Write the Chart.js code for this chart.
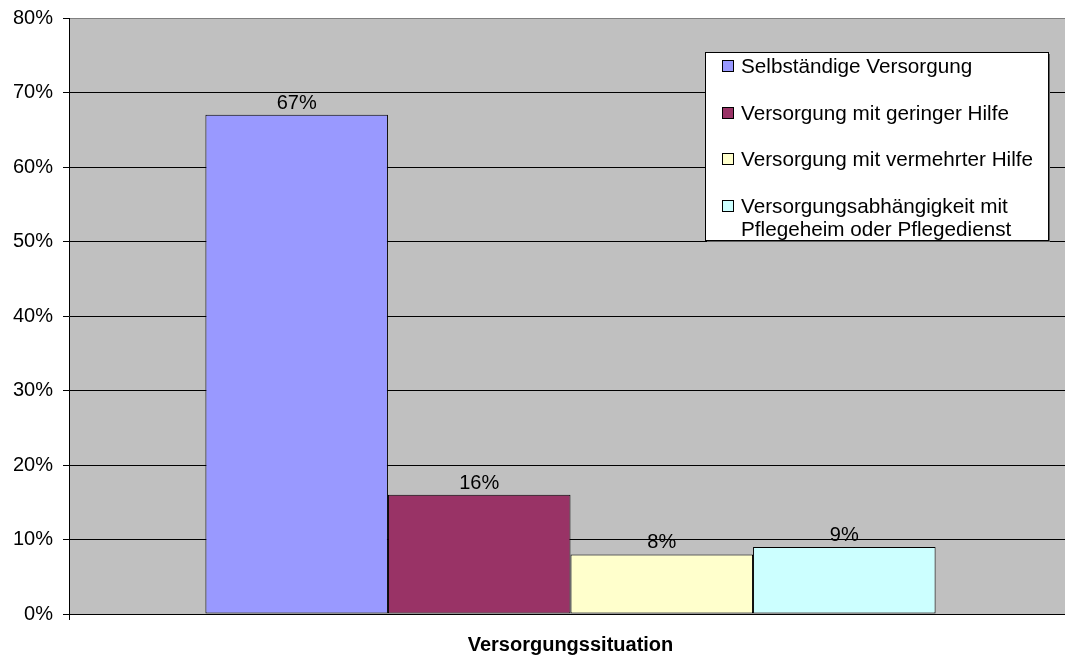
<!DOCTYPE html>
<html>
<head>
<meta charset="utf-8">
<script src="https://cdn.jsdelivr.net/npm/chart.js@4/dist/chart.umd.min.js"></script>
<style>
  html, body { margin: 0; padding: 0; background: #fff; overflow: hidden; width: 1065px; height: 659px; }
  canvas { display: block; }
</style>
</head>
<body>
<canvas id="c" width="1072" height="659"></canvas>
<script>
const categories = [''];
const axisTitle = 'Versorgungssituation';
const seriesNames = [
  'Selbständige Versorgung',
  'Versorgung mit geringer Hilfe',
  'Versorgung mit vermehrter Hilfe',
  'Versorgungsabhängigkeit mit\nPflegeheim oder Pflegedienst'
];
const seriesValues = [67, 16, 8, 9];
const seriesColors = ['#9999FF', '#993366', '#FFFFCC', '#CCFFFF'];
const yTicks = [0, 10, 20, 30, 40, 50, 60, 70, 80];

const FONT = "'Liberation Sans', Arial, sans-serif";

const bgPlugin = {
  id: 'plotBg',
  beforeDraw(chart) {
    const {ctx, chartArea: a} = chart;
    ctx.save();
    ctx.fillStyle = '#C0C0C0';
    ctx.fillRect(a.left, a.top, a.right - a.left, a.bottom - a.top);
    ctx.restore();
  }
};

const labelPlugin = {
  id: 'valueLabels',
  afterDatasetsDraw(chart) {
    const ctx = chart.ctx;
    ctx.save();
    ctx.font = '20px ' + FONT;
    ctx.fillStyle = '#000';
    ctx.textAlign = 'center';
    ctx.textBaseline = 'alphabetic';
    chart.data.datasets.forEach((ds, i) => {
      const meta = chart.getDatasetMeta(i);
      meta.data.forEach((el, j) => {
        ctx.fillText(ds.data[j] + '%', el.x, el.y - 6);
      });
    });
    ctx.restore();
  }
};

const legendPlugin = {
  id: 'boxLegend',
  afterDraw(chart) {
    const ctx = chart.ctx;
    const x = 705, y = 52, w = 343, h = 188;
    ctx.save();
    ctx.fillStyle = '#606060';
    ctx.fillRect(x + 2, y + 2, w, h);
    ctx.fillStyle = '#fff';
    ctx.fillRect(x, y, w, h);
    ctx.strokeStyle = '#000';
    ctx.lineWidth = 1;
    ctx.strokeRect(x + 0.5, y + 0.5, w, h);
    ctx.font = '20.7px ' + FONT;
    ctx.textAlign = 'left';
    ctx.textBaseline = 'middle';
    const rowY = [66, 113, 159, 206];
    chart.data.datasets.forEach((ds, i) => {
      const cy = rowY[i];
      ctx.fillStyle = ds.backgroundColor;
      ctx.fillRect(722, cy - 6, 12, 12);
      ctx.strokeStyle = '#000';
      ctx.strokeRect(722.5, cy - 5.5, 11, 11);
      ctx.fillStyle = '#000';
      ds.label.split('\n').forEach((line, k) => {
        ctx.fillText(line, 741, cy + 1 + k * 23);
      });
    });
    ctx.restore();
  }
};

new Chart(document.getElementById('c'), {
  type: 'bar',
  data: {
    labels: categories,
    datasets: seriesNames.map((name, i) => ({
      label: name,
      data: [seriesValues[i]],
      backgroundColor: seriesColors[i],
      borderColor: '#000',
      borderWidth: 1,
      borderSkipped: false,
      categoryPercentage: 0.728,
      barPercentage: 1.0
    }))
  },
  options: {
    responsive: false,
    animation: false,
    devicePixelRatio: 1,
    layout: { padding: { top: 18, right: 0, bottom: 0, left: 0 } },
    plugins: {
      legend: { display: false },
      tooltip: { enabled: false },
      title: { display: false }
    },
    scales: {
      x: {
        ticks: { display: false },
        grid: { display: true, drawOnChartArea: false, drawTicks: true, tickLength: 6, color: '#000', offset: true },
        border: { display: false },
        title: {
          display: true,
          text: axisTitle,
          color: '#000',
          font: { family: FONT, size: 20, weight: 'bold' },
          padding: { top: 0, bottom: 1.5 }
        },
        afterFit(scale) { scale.height = 45; scale.paddingLeft = 0; scale.paddingRight = 0; }
      },
      y: {
        min: 0,
        max: 80,
        afterBuildTicks(scale) { scale.ticks = yTicks.map(v => ({ value: v })); },
        ticks: {
          callback: v => v + '%',
          color: '#000',
          font: { family: FONT, size: 20 },
          padding: 10
        },
        grid: {
          color: ctx => (ctx.tick && ctx.tick.value === 80 ? '#808080' : '#000'),
          tickColor: '#000',
          tickLength: 6,
          lineWidth: 1
        },
        border: { display: true, color: '#000', width: 1 },
        afterFit(scale) { scale.width = 69; scale.paddingTop = 0; scale.paddingBottom = 0; }
      }
    }
  },
  plugins: [bgPlugin, labelPlugin, legendPlugin]
});
</script>
</body>
</html>
